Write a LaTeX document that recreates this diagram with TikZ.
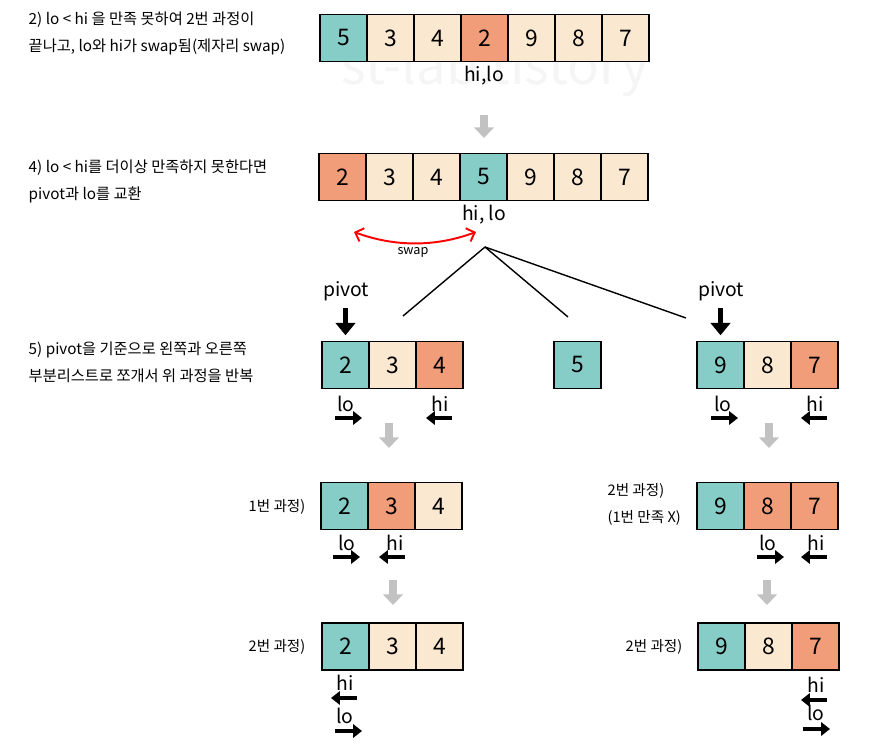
\documentclass[tikz,border=0pt]{standalone}
\usepackage{fontspec}
\setmainfont{Noto Sans CJK KR}
\usetikzlibrary{arrows.meta}

\definecolor{tealc}{HTML}{86CDC8}
\definecolor{creamc}{HTML}{FAE8D0}
\definecolor{salmonc}{HTML}{F29D7A}
\definecolor{flowgray}{HTML}{C2C2C2}

\tikzset{
	cell/.style={draw=black, line width=1.1pt, minimum size=0.94cm, inner sep=0pt, font=\fontsize{13}{13}\selectfont},
	note/.style={align=left, anchor=west, inner sep=0pt, font=\fontsize{8.7}{15.3}\selectfont},
	passlabel/.style={align=left, inner sep=0pt, font=\fontsize{8.3}{15.3}\selectfont},
	ptrlabel/.style={inner sep=0pt, font=\fontsize{11}{11}\selectfont},
	ptr/.style={line width=1.8pt, -{Triangle[length=5pt,width=7.5pt]}},
	pivarrow/.style={line width=3pt, -{Triangle[length=7pt,width=11pt]}},
	flowarrow/.style={flowgray, line width=4.5pt, -{Triangle[length=6pt,width=11pt]}}
}

\begin{document}
\begin{tikzpicture}[x=0.02cm, y=-0.02cm, thick]
		\useasboundingbox (0,0) rectangle (876,750);

		% Watermark
		\node[text=black!4, font=\fontsize{30}{30}\selectfont] (mark) at (495,70) {st-lab.tistory};

		% Step notes on the left
		\node[note] (note2) at (28,33.5) {2) lo < hi 을 만족 못하여 2번 과정이\\끝나고, lo와 hi가 swap됨(제자리 swap)};
		\node[note] (note4) at (28,181.5) {4) lo < hi를 더이상 만족하지 못한다면\\pivot과 lo를 교환};
		\node[note] (note5) at (28,362.5) {5) pivot을 기준으로 왼쪽과 오른쪽\\부분리스트로 쪼개서 위 과정을 반복};

		% First list
		\foreach \i/\v/\c in {1/5/tealc, 2/3/creamc, 3/4/creamc, 4/2/salmonc, 5/9/creamc, 6/8/creamc, 7/7/creamc} {
			\node[cell, fill=\c] (a\i) at (296.5+47*\i, 38) {\v};
		}
		\node[ptrlabel] (hilo1) at (484,76) {hi,lo};
		\draw[flowarrow] (484,115) -- (484,138);

		% List after the swap with pivot
		\foreach \i/\v/\c in {1/2/salmonc, 2/3/creamc, 3/4/creamc, 4/5/tealc, 5/9/creamc, 6/8/creamc, 7/7/creamc} {
			\node[cell, fill=\c] (b\i) at (295.5+47*\i, 177) {\v};
		}
		\node[ptrlabel] (hilo2) at (484,215) {hi, lo};

		% Swap arc
		\coordinate (swapL) at (354,232);
		\coordinate (swapR) at (476,232);
		\draw[red, line width=1.1pt, {Straight Barb[length=4pt,width=8pt]}-{Straight Barb[length=4pt,width=8pt]}]
			(swapL) .. controls (395,247) and (435,247) .. (swapR);
		\node[font=\fontsize{7.2}{7.2}\selectfont] (swaplbl) at (413,252) {swap};

		% Split into sublists
		\coordinate (split) at (485,247);
		\coordinate (toL) at (403,316);
		\coordinate (toM) at (568,317);
		\coordinate (toR) at (686,318);
		\draw (split) -- (toL);
		\draw (split) -- (toM);
		\draw (split) -- (toR);

		% Sublists
		\foreach \i/\v/\c in {1/2/tealc, 2/3/creamc, 3/4/salmonc} {
			\node[cell, fill=\c] (l\i) at (298.5+47*\i, 365) {\v};
		}
		\node[cell, fill=tealc] (five) at (577.5,365) {5};
		\foreach \i/\v/\c in {1/9/tealc, 2/8/creamc, 3/7/salmonc} {
			\node[cell, fill=\c] (r\i) at (673.5+47*\i, 365) {\v};
		}

		\node[ptrlabel] (pivL) at (346,291) {pivot};
		\node[ptrlabel] (pivR) at (721,291) {pivot};
		\draw[pivarrow, shorten <=4pt, shorten >=3pt] (pivL.south -| l1) -- (l1.north);
		\draw[pivarrow, shorten <=4pt, shorten >=3pt] (pivR.south -| r1) -- (r1.north);

		% Pointer labels
		\foreach \n/\x/\y/\t in {loL/346/404/lo, hiL/440/404/hi, loR/723/404/lo, hiR/815/404/hi,
			loLL/347/543/lo, hiLL/395/543/hi, loLR/768/543/lo, hiLR/816/543/hi,
			hiBL/345/683/hi, loBL/345/716/lo, hiBR/816/685/hi, loBR/816/713/lo} {
			\node[ptrlabel] (\n) at (\x,\y) {\t};
		}

		% Pointer arrows (lo goes right, hi goes left)
		\foreach \x/\y in {335/418, 711/418, 333/557, 757/557, 335/731, 803/729} {
			\draw[ptr] (\x,\y) -- ++(27,0);
		}
		\foreach \x/\y in {452/418, 827/418, 405/557, 827/557, 357/698, 827/700} {
			\draw[ptr] (\x,\y) -- ++(-26,0);
		}

		% Flow arrows
		\foreach \x/\y in {389/423, 769/423, 393/580, 767/580} {
			\draw[flowarrow] (\x,\y) -- ++(0,25);
		}

		% Pass 1 on both sides
		\node[passlabel] (pass1L) at (277,507) {1번 과정)};
		\foreach \i/\v/\c in {1/2/tealc, 2/3/salmonc, 3/4/creamc} {
			\node[cell, fill=\c] (m\i) at (297.5+47*\i, 506) {\v};
		}
		\node[passlabel, anchor=west] (pass1R) at (607,504.5) {2번 과정)\\(1번 만족 X)};
		\foreach \i/\v/\c in {1/9/tealc, 2/8/salmonc, 3/7/salmonc} {
			\node[cell, fill=\c] (n\i) at (673.5+47*\i, 506) {\v};
		}

		% Pass 2 on both sides
		\node[passlabel] (pass2L) at (277,647) {2번 과정)};
		\foreach \i/\v/\c in {1/2/tealc, 2/3/creamc, 3/4/creamc} {
			\node[cell, fill=\c] (p\i) at (298.5+47*\i, 646.5) {\v};
		}
		\node[passlabel] (pass2R) at (654,647) {2번 과정)};
		\foreach \i/\v/\c in {1/9/tealc, 2/8/creamc, 3/7/salmonc} {
			\node[cell, fill=\c] (q\i) at (674.5+47*\i, 646.5) {\v};
		}
	\end{tikzpicture}
\end{document}
